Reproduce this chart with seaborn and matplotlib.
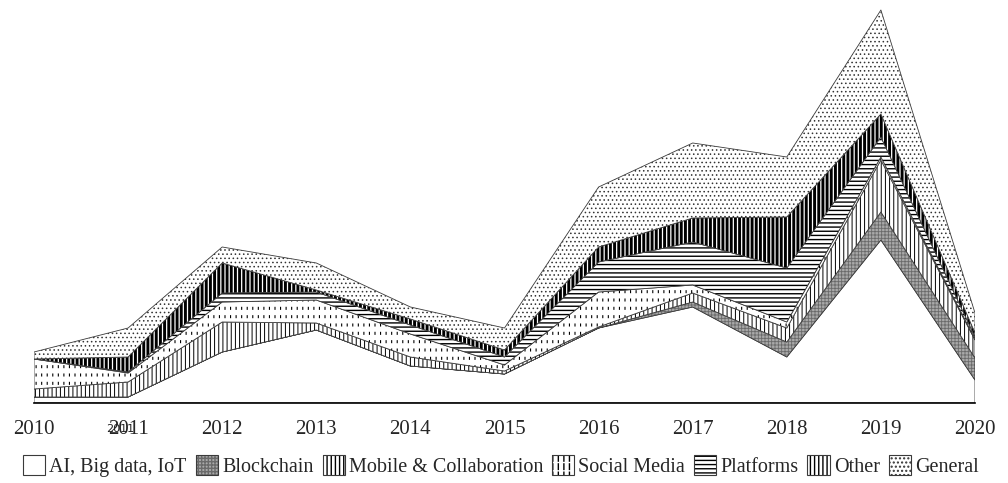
import matplotlib
matplotlib.use('Agg')
import matplotlib.pyplot as plt
import seaborn as sns
import pandas as pd
from matplotlib.patches import Patch
from matplotlib.legend_handler import HandlerTuple

years = list(range(2010, 2021))
categories = ['AI, Big data, IoT', 'Blockchain', 'Mobile & Collaboration',
              'Social Media', 'Platforms', 'Other', 'General']

# stacked values (arbitrary units)
ai_bigdata = [6, 6, 51, 73, 37, 29, 75, 96, 46, 163, 23]
blockchain = [0, 0, 0, 0, 0, 0, 0, 5, 15, 28, 22]
mobile = [8, 15, 30, 7, 9, 3, 1, 9, 14, 52, 18]
social = [30, 9, 20, 23, 23, 6, 35, 8, 6, 3, 1]
platforms = [0, 1, 9, 8, 9, 8, 30, 43, 54, 20, 2]
other = [0, 15, 30, 2, 6, 7, 15, 24, 51, 23, 4]
general = [7, 29, 16, 27, 12, 22, 60, 75, 60, 104, 20]

# face, hatch, hatch colour, hatch width, optional white overlay hatch
styles = {
    'AI, Big data, IoT': ('white', None, 'black', 0.8, None),
    'Blockchain': ('#a9a9a9', '+++++', '#6a6a6a', 0.6, None),
    'Mobile & Collaboration': ('white', '||||', 'black', 0.7, None),
    'Social Media': ('white', '|||', 'black', 0.8, ('--', 3.8)),
    'Platforms': ('white', '----', 'black', 1.0, None),
    'Other': ('white', '||||', 'black', 2.1, None),
    'General': ('white', '....', '#333333', 0.6, None),
}

df = pd.DataFrame(dict(zip(categories, [ai_bigdata, blockchain, mobile, social,
                                        platforms, other, general])), index=years)
cum = df.cumsum(axis=1)

sns.set_theme(style='white')
plt.rcParams['font.family'] = ['Liberation Serif', 'DejaVu Serif']

fig = plt.figure(figsize=(10.08, 4.83), dpi=100)
ax = fig.add_axes([34 / 1008, 80 / 483, 941 / 1008, 403 / 483])


def hatch_lw(artist, lw):
    if hasattr(artist, 'set_hatch_linewidth'):
        artist.set_hatch_linewidth(lw)
    return artist


handles = []
for i, name in enumerate(categories):
    face, hatch, hcol, hlw, overlay = styles[name]
    lower = cum.iloc[:, i - 1] if i > 0 else 0 * cum.iloc[:, 0]
    upper = cum.iloc[:, i]
    with plt.rc_context({'hatch.linewidth': hlw}):
        hatch_lw(ax.fill_between(years, lower, upper, facecolor=face, edgecolor=hcol,
                                 linewidth=0, hatch=hatch), hlw)
        parts = [hatch_lw(Patch(facecolor=face, edgecolor=hcol, linewidth=0, hatch=hatch), hlw)]
    if overlay:
        with plt.rc_context({'hatch.linewidth': overlay[1]}):
            hatch_lw(ax.fill_between(years, lower, upper, facecolor='none', edgecolor='white',
                                     linewidth=0, hatch=overlay[0]), overlay[1])
            parts.append(hatch_lw(Patch(facecolor='none', edgecolor='white', linewidth=0,
                                        hatch=overlay[0]), overlay[1]))
    ax.fill_between(years, lower, upper, facecolor='none', edgecolor='#3a3a3a', linewidth=0.6)
    parts.append(Patch(facecolor='none', edgecolor='#3a3a3a', linewidth=0.8))
    handles.append(tuple(parts))

ax.set_xlim(years[0], years[-1])
ax.set_ylim(0, 403)
ax.set_xticks(years)
ax.set_xticklabels([str(y) for y in years], fontsize=15)
ax.set_yticks([])
ax.tick_params(axis='x', length=0, pad=12)
sns.despine(ax=ax, left=True)
ax.spines['bottom'].set_color('black')
ax.spines['bottom'].set_linewidth(1.2)
ax.grid(False)

# small overlapping label artefact present in the source figure
fig.text(120 / 1008, 1 - 429 / 483, '2011', fontsize=8, family='DejaVu Sans',
         ha='center', va='center', color='#222222')

fig.legend(handles, categories, handler_map={tuple: HandlerTuple(ndivide=1, pad=0)},
           loc='center', bbox_to_anchor=(0.497, 1 - 466 / 483), ncol=7, frameon=False,
           fontsize=14.5, handlelength=1.1, handleheight=1.1, handletextpad=0.2,
           columnspacing=0.45, borderaxespad=0)

fig.savefig('out.png', dpi=100)
